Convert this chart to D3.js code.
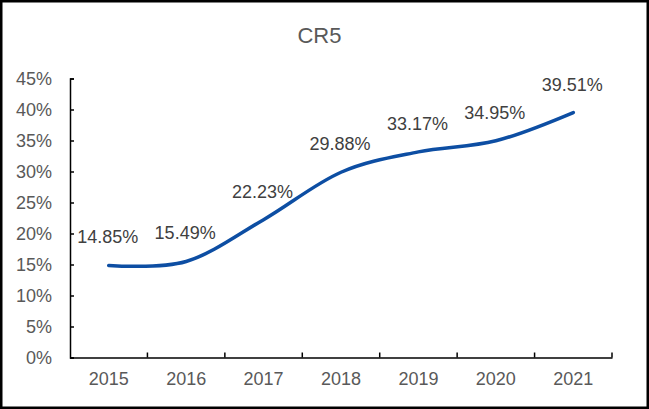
<!DOCTYPE html>
<html>
<head>
<meta charset="utf-8">
<script src="https://cdn.jsdelivr.net/npm/d3@7"></script>
<style>
  body { margin: 0; background: #fff; }
  text { font-family: "Liberation Sans", Arial, sans-serif; fill: #595959; }
</style>
</head>
<body>
<div id="root"></div>
<script>
const years = ["2015", "2016", "2017", "2018", "2019", "2020", "2021"];
const cr5 = [14.85, 15.49, 22.23, 29.88, 33.17, 34.95, 39.51];
const yTicks = [0, 5, 10, 15, 20, 25, 30, 35, 40, 45];

const w = 649;
const h = 409;
const plotLeft = 70;
const plotRight = 612;
const plotTop = 78.5;
const plotBottom = 357.5;

const svg = d3
  .select("#root")
  .append("svg")
  .attr("width", w)
  .attr("height", h);

svg
  .append("rect")
  .attr("x", 1.25)
  .attr("y", 1.25)
  .attr("width", w - 2.5)
  .attr("height", h - 2.5)
  .attr("fill", "white")
  .attr("stroke", "black")
  .attr("stroke-width", 2.5);

svg
  .append("text")
  .attr("x", 319.5)
  .attr("y", 43)
  .attr("text-anchor", "middle")
  .attr("font-size", 22)
  .text("CR5");

const xScale = d3.scaleBand().domain(years).range([plotLeft, plotRight]);
const yScale = d3.scaleLinear().domain([0, 45]).range([plotBottom, plotTop]);

// y axis
const yAxis = d3
  .axisLeft(yScale)
  .tickValues(yTicks)
  .tickSize(-4)
  .tickPadding(18)
  .tickFormat((d) => d + "%");

const gy = svg
  .append("g")
  .attr("transform", `translate(${plotLeft},0)`)
  .call(yAxis);
gy.select(".domain").attr("stroke", "black").attr("stroke-width", 1.5);
gy.selectAll(".tick line").attr("stroke", "black").attr("stroke-width", 1.5);
gy.selectAll(".tick text")
  .attr("font-size", 18)
  .attr("fill", "#595959")
  .attr("font-family", "Liberation Sans, Arial, sans-serif");

// x axis
const xAxis = d3.axisBottom(xScale).tickSize(0).tickPadding(15);
const gx = svg
  .append("g")
  .attr("transform", `translate(0,${plotBottom})`)
  .call(xAxis);
gx.select(".domain").attr("stroke", "black").attr("stroke-width", 1.5);
gx.selectAll(".tick text")
  .attr("font-size", 18)
  .attr("fill", "#595959")
  .attr("font-family", "Liberation Sans, Arial, sans-serif");

// category separator ticks pointing up
gx.selectAll(".sep")
  .data(years.slice(1).concat(["end"]))
  .join("line")
  .attr("class", "sep")
  .attr("x1", (d, i) => plotLeft + xScale.step() * (i + 1))
  .attr("x2", (d, i) => plotLeft + xScale.step() * (i + 1))
  .attr("y1", 0)
  .attr("y2", -5)
  .attr("stroke", "black")
  .attr("stroke-width", 1.5);

const points = years.map((y, i) => [
  xScale(y) + xScale.bandwidth() / 2,
  yScale(cr5[i]),
]);

const line = d3.line().curve(d3.curveCardinal.tension(0));

svg
  .append("path")
  .attr("d", line(points))
  .attr("fill", "none")
  .attr("stroke", "#0D4EA3")
  .attr("stroke-width", 3.5)
  .attr("stroke-linecap", "round");

svg
  .append("g")
  .selectAll("text")
  .data(cr5)
  .join("text")
  .attr("x", (d, i) => points[i][0] - 1)
  .attr("y", (d, i) => points[i][1] - 22)
  .attr("text-anchor", "middle")
  .attr("font-size", 18)
  .style("fill", "#404040")
  .text((d) => d.toFixed(2) + "%");
</script>
</body>
</html>
